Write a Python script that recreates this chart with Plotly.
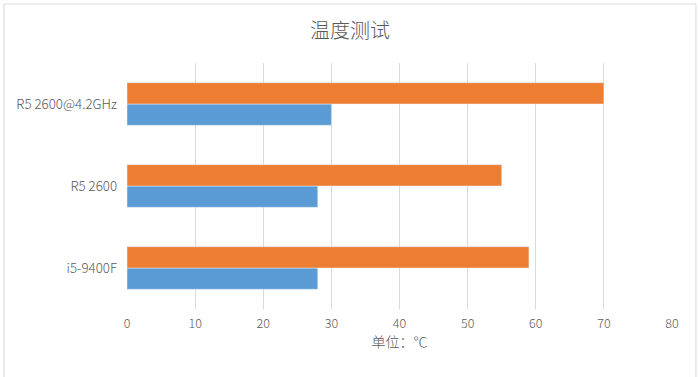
import plotly.graph_objects as go

categories = ["i5-9400F", "R5 2600", "R5 2600@4.2GHz"]
idle_values = [28, 28, 30]
load_values = [59, 55, 70]
x_ticks = [0, 10, 20, 30, 40, 50, 60, 70, 80]

font_family = "Noto Sans CJK SC, Noto Sans, sans-serif"
gray = "#595959"

fig = go.Figure()
fig.add_trace(go.Bar(y=categories, x=idle_values, orientation="h",
                     name="待机", marker=dict(color="#5B9BD5")))
fig.add_trace(go.Bar(y=categories, x=load_values, orientation="h",
                     name="满载", marker=dict(color="#ED7D31")))

fig.update_layout(
    width=700, height=377,
    barmode="group", bargap=0.48, bargroupgap=0,
    showlegend=False,
    paper_bgcolor="white", plot_bgcolor="white",
    margin=dict(l=127, r=28, t=63, b=68, autoexpand=False),
    title=dict(text="温度测试", x=0.5, xanchor="center", y=0.918, yanchor="middle",
               font=dict(family=font_family, size=20, color=gray, weight=300)),
    font=dict(family=font_family, size=12, color=gray, weight=300),
    xaxis=dict(range=[0, 80], tickvals=x_ticks, showgrid=True, gridcolor="#d9d9d9",
               gridwidth=1, zeroline=False, showline=False, ticks="", automargin=False,
               ticklabelstandoff=5,
               tickfont=dict(size=12.5, color=gray, weight=300),
               title=dict(text="单位：℃", font=dict(size=14, color=gray, weight=300), standoff=6)),
    yaxis=dict(showgrid=False, zeroline=False, showline=False, ticks="", automargin=False,
               ticklabelstandoff=9, tickfont=dict(size=13.3, color=gray, weight=300)),
    shapes=[dict(type="rect", xref="paper", yref="paper", x0=-0.2257, x1=1.044, y0=-0.3, y1=1.24,
                 line=dict(color="#d9d9d9", width=1))],
)

fig.write_html("out.html", config={"displayModeBar": False},
               post_script="document.body.style.margin='0';document.body.style.padding='0';")
